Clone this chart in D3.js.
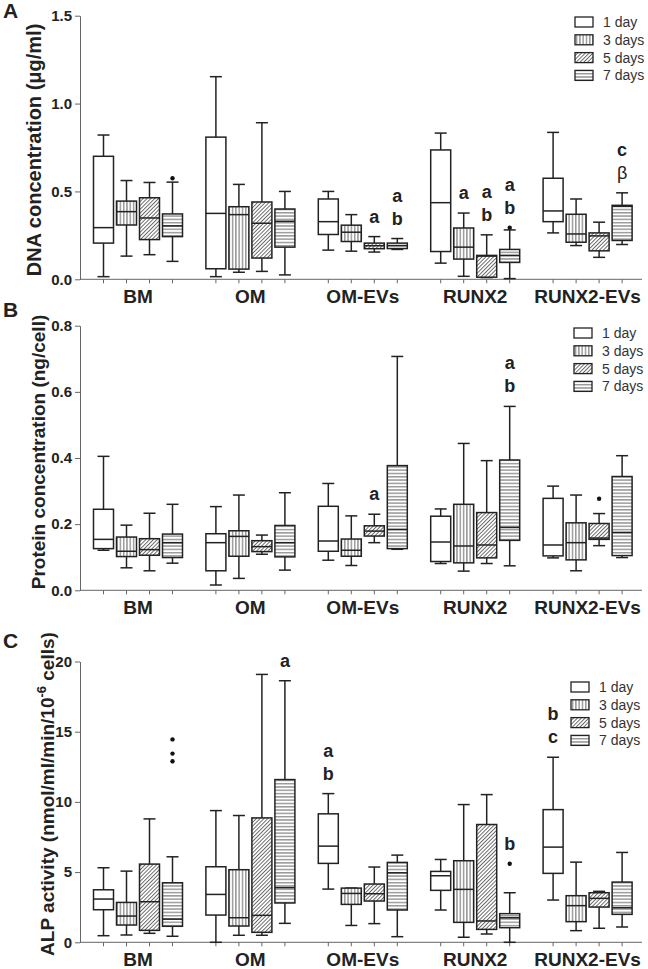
<!DOCTYPE html>
<html>
<head>
<meta charset="utf-8">
<script src="https://cdn.jsdelivr.net/npm/d3@7"></script>
<style>
    body { margin: 0; background: #fff; }
    svg { display: block; font-family: "Liberation Sans", Arial, sans-serif; }
</style>
</head>
<body>
<svg id="chart" width="648" height="969"></svg>
<script>
var groups = ['BM', 'OM', 'OM-EVs', 'RUNX2', 'RUNX2-EVs'];
var days = ['1 day', '3 days', '5 days', '7 days'];

// one row per group, one [min, q1, median, q3, max] per day
var dnaBoxes = [
    [[0.015, 0.206, 0.294, 0.700, 0.821], [0.132, 0.309, 0.385, 0.445, 0.562], [0.140, 0.226, 0.349, 0.464, 0.551], [0.102, 0.243, 0.304, 0.372, 0.553]],
    [[0.015, 0.060, 0.375, 0.809, 1.153], [0.040, 0.058, 0.368, 0.413, 0.540], [0.045, 0.121, 0.319, 0.440, 0.891], [0.025, 0.183, 0.330, 0.400, 0.500]],
    [[0.166, 0.255, 0.328, 0.457, 0.500], [0.160, 0.215, 0.268, 0.308, 0.368], [0.155, 0.174, 0.191, 0.206, 0.243], [0.170, 0.175, 0.192, 0.206, 0.232]],
    [[0.092, 0.158, 0.436, 0.736, 0.832], [0.017, 0.115, 0.183, 0.292, 0.377], [0.010, 0.012, 0.132, 0.136, 0.253], [0.004, 0.096, 0.136, 0.170, 0.281]],
    [[0.264, 0.328, 0.389, 0.575, 0.836], [0.192, 0.211, 0.258, 0.370, 0.457], [0.125, 0.162, 0.247, 0.264, 0.325], [0.198, 0.221, 0.415, 0.421, 0.492]]
];
var dnaOutliers = [[0, 3, 0.575], [3, 3, 0.294]];
var dnaLetters = [[2, 2, ['a']], [2, 3, ['a', 'b']], [3, 1, ['a']], [3, 2, ['a', 'b']], [3, 3, ['a', 'b']], [4, 3, ['c', 'β']]];

var proteinBoxes = [
    [[0.121, 0.126, 0.154, 0.245, 0.405], [0.068, 0.102, 0.118, 0.161, 0.197], [0.059, 0.106, 0.123, 0.156, 0.233], [0.082, 0.099, 0.144, 0.170, 0.260]],
    [[0.016, 0.059, 0.144, 0.171, 0.253], [0.036, 0.103, 0.163, 0.180, 0.288], [0.109, 0.117, 0.132, 0.150, 0.167], [0.061, 0.101, 0.144, 0.196, 0.295]],
    [[0.091, 0.118, 0.149, 0.254, 0.323], [0.075, 0.103, 0.121, 0.155, 0.225], [0.144, 0.164, 0.179, 0.195, 0.230], [0.124, 0.126, 0.184, 0.377, 0.707]],
    [[0.081, 0.087, 0.146, 0.224, 0.246], [0.058, 0.083, 0.134, 0.260, 0.444], [0.081, 0.098, 0.137, 0.235, 0.392], [0.074, 0.151, 0.190, 0.394, 0.556]],
    [[0.098, 0.104, 0.137, 0.278, 0.315], [0.059, 0.092, 0.144, 0.204, 0.288], [0.135, 0.154, 0.158, 0.202, 0.232], [0.099, 0.105, 0.175, 0.344, 0.407]]
];
var proteinOutliers = [[4, 2, 0.277]];
var proteinLetters = [[2, 2, ['a']], [3, 3, ['a', 'b']]];

var alpBoxes = [
    [[0.47, 2.32, 3.08, 3.74, 5.31], [0.52, 1.23, 1.87, 2.84, 5.07], [0.64, 0.85, 2.89, 5.57, 8.79], [0.43, 1.14, 1.65, 4.24, 6.09]],
    [[0.00, 1.94, 3.41, 5.38, 9.38], [0.50, 1.16, 1.75, 5.17, 9.03], [0.50, 0.71, 1.92, 8.86, 19.08], [1.35, 2.80, 3.89, 11.59, 18.63]],
    [[3.79, 5.62, 6.85, 9.15, 10.59], [1.20, 2.70, 3.48, 3.86, 3.86], [1.33, 2.94, 3.46, 4.15, 5.36], [0.40, 2.30, 4.95, 5.69, 6.21]],
    [[2.30, 3.70, 4.74, 5.05, 5.90], [0.36, 1.42, 3.77, 5.81, 9.81], [0.59, 0.92, 1.52, 8.39, 10.52], [0.00, 1.04, 1.75, 2.04, 3.53]],
    [[3.01, 4.91, 6.78, 9.45, 13.18], [0.83, 1.47, 2.61, 3.32, 5.71], [1.00, 2.51, 3.13, 3.53, 3.63], [1.09, 1.99, 2.46, 4.29, 6.40]]
];
var alpOutliers = [[0, 3, 14.45], [0, 3, 13.44], [0, 3, 12.89], [3, 3, 5.59]];
var alpLetters = [[1, 3, ['a']], [2, 0, ['a', 'b']], [3, 3, ['b']], [4, 0, ['b', 'c']]];

var dnaTicks = [0, 0.5, 1.0, 1.5];
var proteinTicks = [0, 0.2, 0.4, 0.6, 0.8];
var alpTicks = [0, 5, 10, 15, 20];

var svg = d3.select('#chart');
var ink = '#222';

// hatch patterns for the four time points
var defs = svg.append('defs');
function stripe(id, w, h, x1, y1, x2, y2, rot) {
    var p = defs.append('pattern').attr('id', id).attr('patternUnits', 'userSpaceOnUse')
        .attr('width', w).attr('height', h);
    if (rot) p.attr('patternTransform', 'rotate(' + rot + ')');
    p.append('rect').attr('width', w).attr('height', h).attr('fill', '#fff');
    p.append('line').attr('x1', x1).attr('y1', y1).attr('x2', x2).attr('y2', y2)
        .attr('stroke', '#555').attr('stroke-width', 0.9);
}
stripe('p3', 3.3, 10, 1.6, 0, 1.6, 10);
stripe('p5', 2.7, 10, 1.4, 0, 1.4, 10, 45);
stripe('p7', 10, 3.3, 0, 1.6, 10, 1.6);
var fills = ['#fff', 'url(#p3)', 'url(#p5)', 'url(#p7)'];

var x0 = d3.scaleBand().domain(groups).range([80, 642]);
var x1 = d3.scaleBand().domain(days).range([12, 104]);
var boxW = 20, capW = 12;

function cx(gi, di) {
    return x0(groups[gi]) + x1(days[di]) + x1.bandwidth() / 2;
}

function drawPanel(cfg) {
    var y = d3.scaleLinear().domain(cfg.domain).range([cfg.bottom, cfg.top]);
    var g = svg.append('g');

    // y axis
    g.append('g').attr('transform', 'translate(80,0)')
        .call(d3.axisLeft(y).tickValues(cfg.ticks).tickSize(5).tickPadding(3).tickSizeOuter(0).tickFormat(cfg.fmt))
        .call(function (a) {
            a.select('.domain').attr('stroke', '#666');
            a.selectAll('.tick line').attr('stroke', '#666');
            a.selectAll('text').attr('font-size', 15).attr('font-weight', 'bold').attr('fill', ink)
                .attr('font-family', '"Liberation Sans", Arial, sans-serif');
        });

    // x axis line + ticks under every box
    g.append('line').attr('x1', 80).attr('x2', 642).attr('y1', cfg.bottom).attr('y2', cfg.bottom)
        .attr('stroke', '#666');
    var centers = [];
    groups.forEach(function (gr, gi) {
        days.forEach(function (d, di) { centers.push(cx(gi, di)); });
    });
    g.selectAll('.xt').data(centers).enter().append('line')
        .attr('x1', function (d) { return d; }).attr('x2', function (d) { return d; })
        .attr('y1', cfg.bottom).attr('y2', cfg.bottom + 4).attr('stroke', '#666');

    g.selectAll('.cat').data(groups).enter().append('text')
        .attr('x', function (d) { return x0(d) + 58; })
        .attr('y', cfg.bottom + 24)
        .attr('text-anchor', 'middle').attr('font-size', 19).attr('font-weight', 'bold').attr('fill', ink)
        .text(function (d) { return d; });

    // boxes
    var rows = [];
    cfg.boxes.forEach(function (grp, gi) {
        grp.forEach(function (s, di) { rows.push({ gi: gi, di: di, s: s }); });
    });
    var b = g.selectAll('.box').data(rows).enter().append('g');
    b.append('line')
        .attr('x1', function (d) { return cx(d.gi, d.di); }).attr('x2', function (d) { return cx(d.gi, d.di); })
        .attr('y1', function (d) { return y(d.s[0]); }).attr('y2', function (d) { return y(d.s[4]); })
        .attr('stroke', ink).attr('stroke-width', 1.5);
    [0, 4].forEach(function (k) {
        b.append('line')
            .attr('x1', function (d) { return cx(d.gi, d.di) - capW / 2; })
            .attr('x2', function (d) { return cx(d.gi, d.di) + capW / 2; })
            .attr('y1', function (d) { return y(d.s[k]); }).attr('y2', function (d) { return y(d.s[k]); })
            .attr('stroke', ink).attr('stroke-width', 1.5);
    });
    b.append('rect')
        .attr('x', function (d) { return cx(d.gi, d.di) - boxW / 2; })
        .attr('y', function (d) { return y(d.s[3]); })
        .attr('width', boxW)
        .attr('height', function (d) { return y(d.s[1]) - y(d.s[3]); })
        .attr('fill', function (d) { return fills[d.di]; })
        .attr('stroke', ink).attr('stroke-width', 1.5);
    b.append('line')
        .attr('x1', function (d) { return cx(d.gi, d.di) - boxW / 2; })
        .attr('x2', function (d) { return cx(d.gi, d.di) + boxW / 2; })
        .attr('y1', function (d) { return y(d.s[2]); }).attr('y2', function (d) { return y(d.s[2]); })
        .attr('stroke', ink).attr('stroke-width', 1.5);

    g.selectAll('.out').data(cfg.outliers).enter().append('circle')
        .attr('cx', function (d) { return cx(d[0], d[1]); })
        .attr('cy', function (d) { return y(d[2]); })
        .attr('r', 2.2).attr('fill', '#111');

    // significance letters stacked above the highest point
    cfg.letters.forEach(function (L) {
        var top = cfg.boxes[L[0]][L[1]][4];
        cfg.outliers.forEach(function (o) {
            if (o[0] == L[0] && o[1] == L[1]) top = Math.max(top, o[2]);
        });
        var n = L[2].length;
        L[2].forEach(function (t, i) {
            g.append('text').attr('x', cx(L[0], L[1])).attr('y', y(top) - 14 - (n - 1 - i) * 23)
                .attr('text-anchor', 'middle').attr('font-size', 18)
                .attr('font-weight', t == 'β' ? 'normal' : 'bold').attr('fill', ink).text(t);
        });
    });

    // y title
    var tt = g.append('text')
        .attr('transform', 'translate(' + cfg.titleX + ',' + cfg.titleY + ') rotate(-90)')
        .attr('text-anchor', 'middle').attr('font-size', cfg.titleSize).attr('font-weight', 'bold').attr('fill', ink);
    cfg.title(tt);

    // panel letter
    g.append('text').attr('x', 3).attr('y', cfg.letterY).attr('font-size', 21).attr('font-weight', 'bold')
        .attr('fill', ink).text(cfg.letter);

    // legend
    var lg = g.append('g').attr('transform', 'translate(' + cfg.legend[0] + ',' + cfg.legend[1] + ')');
    var li = lg.selectAll('g').data(days).enter().append('g')
        .attr('transform', function (d, i) { return 'translate(0,' + i * 17.8 + ')'; });
    li.append('rect').attr('x', 0).attr('y', -5).attr('width', 18).attr('height', 10)
        .attr('fill', function (d, i) { return fills[i]; }).attr('stroke', ink).attr('stroke-width', 1.3);
    li.append('text').attr('x', 28).attr('y', 5).attr('font-size', 14).attr('fill', '#333')
        .text(function (d) { return d; });
}

drawPanel({
    letter: 'A', letterY: 18, domain: [0, 1.5], top: 15.7, bottom: 279.3, ticks: dnaTicks,
    fmt: d3.format('.1f'), boxes: dnaBoxes, outliers: dnaOutliers, letters: dnaLetters,
    titleX: 41, titleY: 150, titleSize: 20, legend: [575, 22],
    title: function (t) { t.text('DNA concentration (μg/ml)'); }
});
drawPanel({
    letter: 'B', letterY: 317, domain: [0, 0.8], top: 325.7, bottom: 590.3, ticks: proteinTicks,
    fmt: d3.format('.1f'), boxes: proteinBoxes, outliers: proteinOutliers, letters: proteinLetters,
    titleX: 45, titleY: 452, titleSize: 19, legend: [574, 333],
    title: function (t) { t.text('Protein concentration (ng/cell)'); }
});
drawPanel({
    letter: 'C', letterY: 648, domain: [0, 20], top: 661.5, bottom: 942.3, ticks: alpTicks,
    fmt: d3.format('d'), boxes: alpBoxes, outliers: alpOutliers, letters: alpLetters,
    titleX: 54, titleY: 794, titleSize: 19, legend: [571, 687],
    title: function (t) {
        t.append('tspan').text('ALP activity (nmol/ml/min/10');
        t.append('tspan').attr('dy', -8).attr('font-size', 13).text('-6');
        t.append('tspan').attr('dy', 8).text(' cells)');
    }
});
</script>
</body>
</html>
